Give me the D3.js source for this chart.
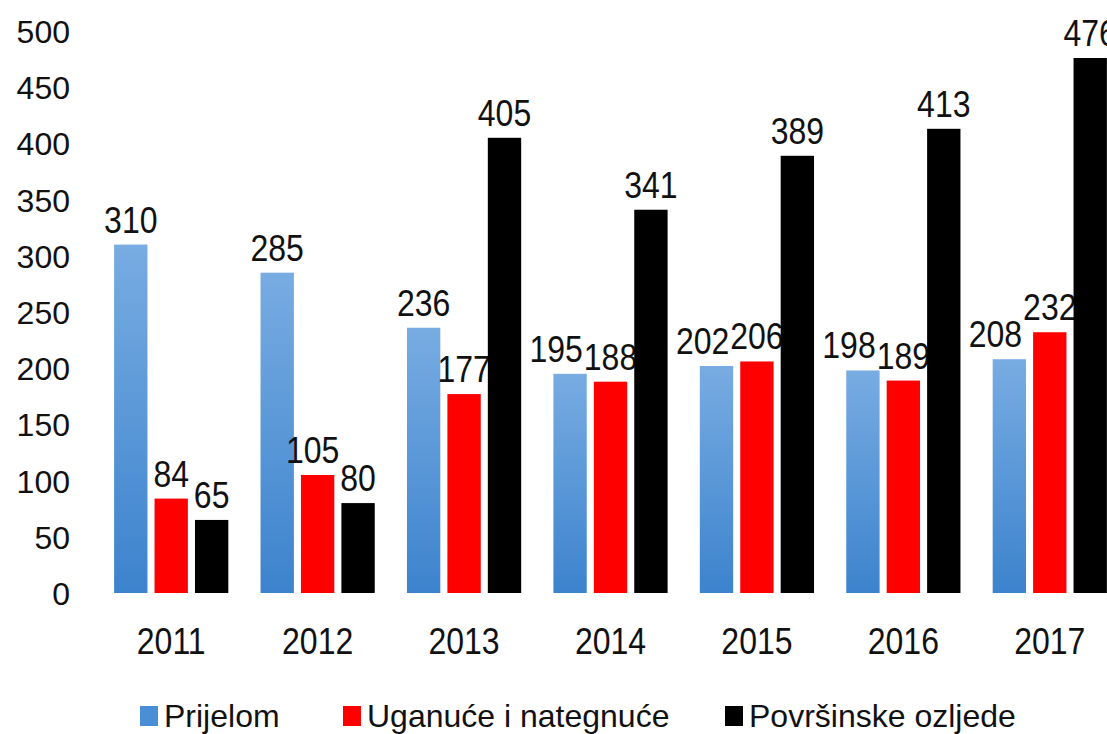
<!DOCTYPE html>
<html><head><meta charset="utf-8">
<script src="https://cdn.jsdelivr.net/npm/d3@7"></script>
<style>
html,body{margin:0;padding:0;background:#fff;}
text{font-family:"Liberation Sans",Arial,sans-serif;fill:#111;}
</style></head>
<body><svg id="chart" width="1107" height="734"></svg>
<script>
const years = ["2011","2012","2013","2014","2015","2016","2017"];
const seriesNames = ["Prijelom","Uganuće i nategnuće","Površinske ozljede"];
const prijelom = [310,285,236,195,202,198,208];
const uganuce = [84,105,177,188,206,189,232];
const povrsinske = [65,80,405,341,389,413,476];
const yTicks = [0,50,100,150,200,250,300,350,400,450,500];
const colors = ["url(#blueGrad)","#ff0000","#000000"];
const legendColors = ["#4a8fd6","#ff0000","#000000"];

const series = [prijelom, uganuce, povrsinske];
const svg = d3.select("#chart");
const defs = svg.append("defs");
const g1 = defs.append("linearGradient").attr("id","blueGrad").attr("x1",0).attr("y1",0).attr("x2",0).attr("y2",1);
g1.append("stop").attr("offset","0%").attr("stop-color","#78ace2");
g1.append("stop").attr("offset","100%").attr("stop-color","#3c83cd");

const y = d3.scaleLinear().domain([0,476]).range([593,58]);
const x0 = d3.scaleBand().domain(years).range([98,1123]).paddingInner(0.22).paddingOuter(0.11);
const x1 = d3.scaleBand().domain([0,1,2]).range([0,x0.bandwidth()]).paddingInner(0.175);

// y axis labels
const yAxis = d3.axisLeft(y).tickValues(yTicks).tickSize(0).tickPadding(0);
const ya = svg.append("g").attr("transform","translate(70,0)").call(yAxis);
ya.select(".domain").remove();
ya.selectAll("text").attr("font-size",32).attr("font-family","Liberation Sans, Arial, sans-serif").attr("fill","#111").attr("dy","0.36em").attr("x",0);

// bars
const groups = svg.append("g").selectAll("g").data(years).join("g")
  .attr("transform", d => `translate(${x0(d)},0)`);
groups.each(function(year, yi){
  const gg = d3.select(this);
  const labels = [];
  series.forEach((s, si) => {
    const v = s[yi];
    gg.append("rect")
      .attr("x", x1(si)).attr("width", x1.bandwidth())
      .attr("y", y(v)).attr("height", y(0)-y(v))
      .attr("fill", colors[si]);
    const cx = x1(si)+x1.bandwidth()/2, cy = y(v)-12;
    const t = gg.append("text")
      .attr("transform", `translate(${cx},${cy}) scale(1,1.15)`)
      .attr("text-anchor","middle").attr("font-size",32)
      .text(v);
    labels.push({t, cx, cy, w: t.node().getComputedTextLength()});
  });
  // resolve overlaps between neighbouring labels at similar heights
  for (let i = labels.length-2; i >= 0; i--) {
    const a = labels[i], b = labels[i+1];
    if (Math.abs(a.cy - b.cy) < 30) {
      const overlap = (a.cx + a.w/2) - (b.cx - b.w/2);
      if (overlap > -1) {
        a.cx -= overlap + 1;
        a.t.attr("transform", `translate(${a.cx},${a.cy}) scale(1,1.15)`);
      }
    }
  }
});

// x axis labels
const xAxis = d3.axisBottom(x0).tickSize(0).tickPadding(0);
const xa = svg.append("g").call(xAxis);
xa.select(".domain").remove();
xa.selectAll(".tick text").remove();
xa.selectAll(".tick").append("text")
  .attr("transform","translate(0,654) scale(1,1.15)")
  .attr("text-anchor","middle").attr("font-size",32).attr("fill","#111")
  .attr("font-family","Liberation Sans, Arial, sans-serif")
  .text(d => d);

// legend
const legendX = [140,343,725];
const lg = svg.append("g");
seriesNames.forEach((n,i)=>{
  lg.append("rect").attr("x",legendX[i]).attr("y",706).attr("width",18).attr("height",20).attr("fill",legendColors[i]);
  lg.append("text").attr("x",legendX[i]+24).attr("y",727).attr("font-size",32).text(n);
});
</script></body></html>
